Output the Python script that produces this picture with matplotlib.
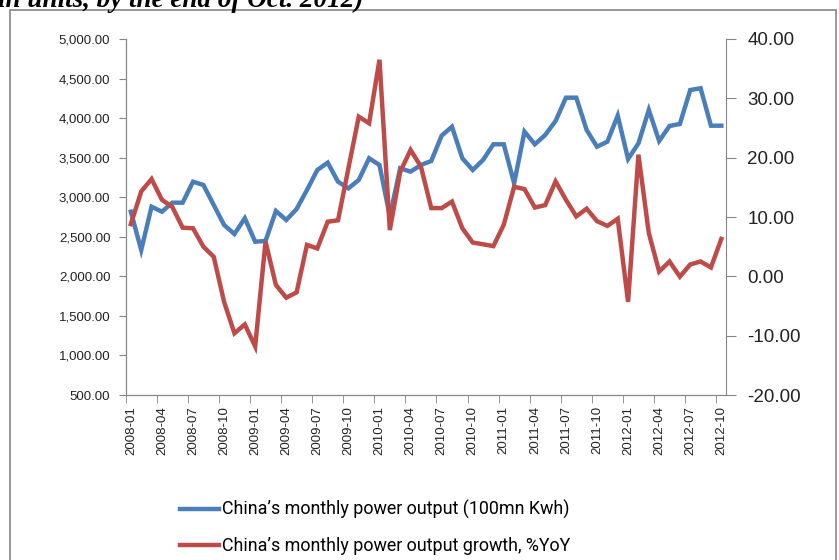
import matplotlib
matplotlib.use("Agg")
import matplotlib.pyplot as plt
from matplotlib.patches import Rectangle

# -------------------------
# Data
# -------------------------
months = [f"{y}-{m:02d}" for y in range(2008, 2013) for m in range(1, 13)][:58]

output = [2817, 2333, 2880, 2817, 2931, 2931, 3196, 3155, 2902, 2649, 2535, 2734,
          2438, 2447, 2826, 2712, 2851, 3091, 3344, 3437, 3196, 3112, 3218, 3492,
          3407, 2760, 3366, 3323, 3407, 3458, 3778, 3891, 3492, 3344, 3471, 3669,
          3669, 3176, 3829, 3669, 3787, 3963, 4258, 4258, 3850, 3639, 3702, 4031,
          3483, 3681, 4103, 3711, 3900, 3926, 4355, 4377, 3904, 3904]

growth = [8.8, 14.3, 16.4, 12.9, 11.7, 8.2, 8.1, 5.0, 3.3, -4.3, -9.6, -8.1,
          -11.8, 5.85, -1.45, -3.6, -2.7, 5.3, 4.7, 9.2, 9.45, 18.2, 26.9, 25.8,
          36.5, 7.8, 17.6, 21.3, 18.5, 11.5, 11.5, 12.6, 8.1, 5.7, 5.4, 5.1,
          8.7, 15.1, 14.7, 11.6, 12.0, 16.0, 12.9, 10.1, 11.4, 9.3, 8.5, 9.7,
          -4.3, 20.5, 7.3, 0.8, 2.5, -0.05, 2.0, 2.5, 1.5, 6.3]

label_output = "China\u2019s monthly power output (100mn Kwh)"
label_growth = "China\u2019s monthly power output growth, %YoY"

BLUE = "#4a7ebb"
RED = "#be4b48"
GREY = "#868686"

plt.rcParams["font.family"] = ["Liberation Sans", "DejaVu Sans"]

fig = plt.figure(figsize=(8.39, 5.60), dpi=100)
ax = fig.add_axes([0.1498, 0.2946, 0.7161, 0.6358])
ax2 = ax.twinx()

x = list(range(len(months)))
l1, = ax.plot(x, output, color=BLUE, lw=3.2, solid_joinstyle="miter")
l2, = ax2.plot(x, growth, color=RED, lw=3.2, solid_joinstyle="miter")

ax.set_xlim(-0.5, len(months) - 0.5)
ax.set_ylim(500, 5000)
ax2.set_ylim(-20, 40)

# left axis
ax.set_yticks(range(500, 5001, 500))
ax.set_yticklabels([f"{v:,.2f}" for v in range(500, 5001, 500)])
ax.tick_params(axis="y", length=5, color=GREY, labelsize=9.5, pad=6, labelcolor="#222222")

# right axis
ax2.set_yticks(range(-20, 41, 10))
ax2.set_yticklabels([f"{v:.2f}" for v in range(-20, 41, 10)])
ax2.tick_params(axis="y", length=7, color=GREY, labelsize=13.5, pad=8, labelcolor="#222222")

# category axis: labels every 3 months, tick marks between categories
ax.set_xticks(x[::3])
ax.set_xticklabels(months[::3], rotation=90)
ax.set_xticks([i - 0.5 for i in range(0, len(months) + 1, 3)], minor=True)
ax.tick_params(axis="x", which="major", length=0, labelsize=9.5, pad=8, labelcolor="#222222")
ax.tick_params(axis="x", which="minor", length=6, color=GREY)

for a in (ax, ax2):
    a.spines["top"].set_visible(False)
    for s in ("left", "right", "bottom"):
        a.spines[s].set_color(GREY)
ax.spines["right"].set_visible(False)

# legend below
fig.legend([l1, l2], [label_output, label_growth], loc="upper left",
           bbox_to_anchor=(180 / 839, 1 - 500 / 560), frameon=False,
           prop={"family": ["Roboto", "Liberation Sans"], "size": 12.9},
           handlelength=2.2, handletextpad=0.12, labelspacing=1.0,
           borderaxespad=0, borderpad=0)

# chart area border
fig.patches.append(Rectangle((10 / 839, -0.1), 826 / 839, 1.1 - 10 / 560,
                             transform=fig.transFigure, fill=False,
                             edgecolor=GREY, lw=1.2))

# title partially cut off at the top
fig.text(-2 / 839, 1 - 7 / 560, "in units, by the end of Oct. 2012)",
         family=["Liberation Serif", "DejaVu Serif"], weight="bold", style="italic",
         fontsize=19.5, va="baseline", ha="left")

fig.savefig("out.png", dpi=100)
